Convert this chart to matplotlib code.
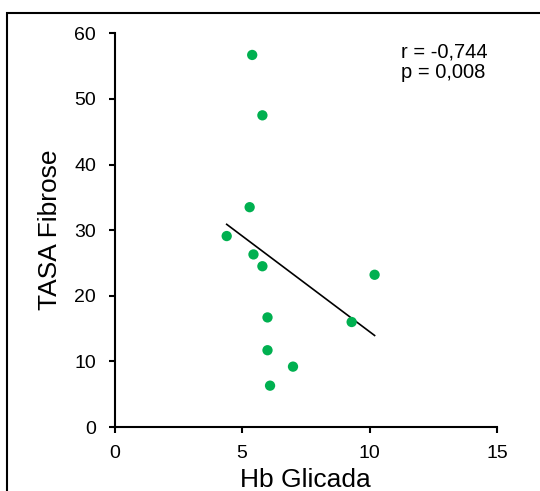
#!/usr/bin/env python3
"""Dispersão TASA Fibrose vs Hb Glicada com reta de tendência."""
import matplotlib
matplotlib.use("Agg")
import matplotlib.pyplot as plt
import numpy as np
from matplotlib.patches import Rectangle

plt.rcParams["font.family"] = ["Liberation Sans", "DejaVu Sans"]

hb = [5.4, 5.8, 5.3, 4.4, 5.45, 5.8, 10.2, 6.0, 9.3, 6.0, 7.0, 6.1]
tasa = [56.7, 47.5, 33.5, 29.1, 26.3, 24.5, 23.2, 16.7, 16.0, 11.7, 9.2, 6.3]
xticks = [0, 5, 10, 15]
yticks = [0, 10, 20, 30, 40, 50, 60]
texto = "r = -0,744\np = 0,008"

fig = plt.figure(figsize=(5.4, 4.91), dpi=100)
ax = fig.add_axes([114.5 / 540, 1 - 427 / 491, (497 - 114.5) / 540, (427 - 33.3) / 491])

# moldura da figura (cortada à direita e embaixo)
fig.patches.append(Rectangle((7 / 540, -0.05), 1.2, 1 - 13.5 / 491 + 0.05,
                             transform=fig.transFigure, fill=False,
                             edgecolor="black", lw=1.5, zorder=0))

ax.scatter(hb, tasa, s=55, color="#00B050", edgecolors="none", zorder=3)

# reta de mínimos quadrados entre o menor e o maior x
a, b = np.polyfit(hb, tasa, 1)
xx = np.array([min(hb), max(hb)])
ax.plot(xx, a * xx + b, color="black", lw=1.2, zorder=2)

ax.set_xlim(0, 15)
ax.set_ylim(0, 60)
ax.set_xticks(xticks)
ax.set_yticks(yticks)
for s in ("top", "right"):
    ax.spines[s].set_visible(False)
for s in ("left", "bottom"):
    ax.spines[s].set_linewidth(1.5)
ax.tick_params(axis="both", direction="out", length=4.3, width=1.5,
               labelsize=14, pad=9)
ax.set_xlabel("Hb Glicada", fontsize=19, labelpad=4)
ax.set_ylabel("TASA Fibrose", fontsize=19, labelpad=9)

ax.text(401 / 540, 1 - 42 / 491, texto, transform=fig.transFigure,
        fontsize=14.5, va="top", ha="left", linespacing=1.15)

fig.savefig("out.png", dpi=100)
